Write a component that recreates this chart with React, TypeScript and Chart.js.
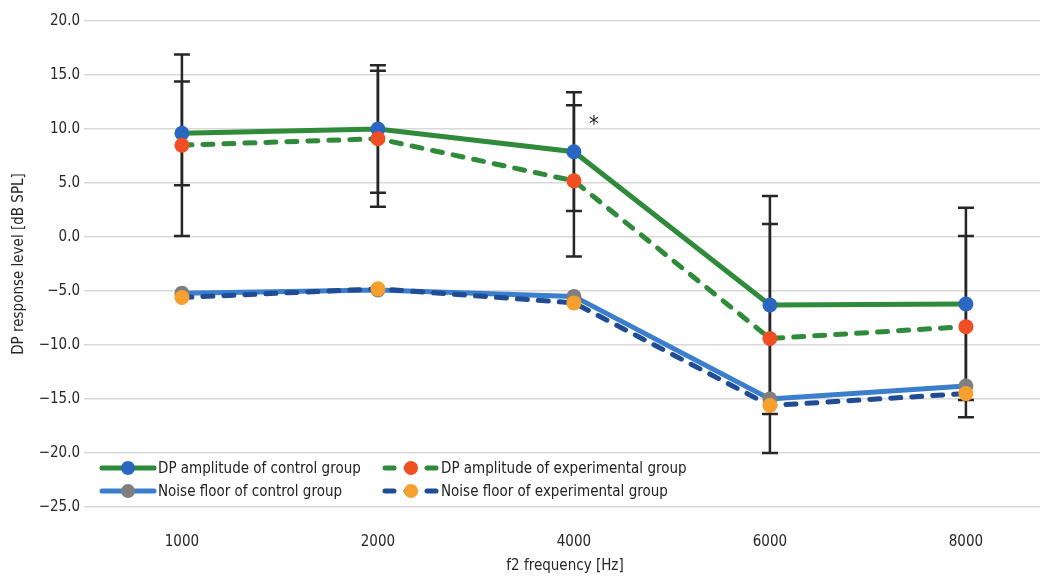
import React, { useEffect, useRef } from "react";
import { Chart, registerables } from "chart.js";

Chart.register(...registerables);

const categories = ["1000", "2000", "4000", "6000", "8000"];
const dpControl = [9.6, 10.0, 7.9, -6.3, -6.2];
const dpExperimental = [8.5, 9.1, 5.2, -9.4, -8.3];
const noiseControl = [-5.2, -4.9, -5.5, -15.0, -13.8];
const noiseExperimental = [-5.6, -4.8, -6.1, -15.6, -14.5];
const dpControlErr = [4.8, 5.9, 5.5, 10.1, 8.9];
const dpExperimentalErr = [8.4, 6.3, 7.0, 10.6, 8.4];
const yTicks = [20, 15, 10, 5, 0, -5, -10, -15, -20, -25];
const significant = [false, false, true, false, false];

const FONT = "'Liberation Sans Narrow', 'DejaVu Sans Condensed', 'Arial Narrow', sans-serif";

const GREEN = "#2f8a3a";
const LIGHT_BLUE = "#3b7fcc";
const DARK_BLUE = "#1f4c94";
const C_BLUE_PT = "#2a67c0";
const C_RED_PT = "#f04e23";
const C_GRAY_PT = "#7f7f7f";
const C_ORANGE_PT = "#f7a02e";

const legendItems = [
  { label: "DP amplitude of control group", line: GREEN, point: C_BLUE_PT, dash: false, col: 0, row: 0 },
  { label: "DP amplitude of experimental group", line: GREEN, point: C_RED_PT, dash: true, col: 1, row: 0 },
  { label: "Noise floor of control group", line: LIGHT_BLUE, point: C_GRAY_PT, dash: false, col: 0, row: 1 },
  { label: "Noise floor of experimental group", line: DARK_BLUE, point: C_ORANGE_PT, dash: true, col: 1, row: 1 },
];

const fmt = (v: number) => (v < 0 ? "\u2212" + Math.abs(v).toFixed(1) : v.toFixed(1));

const extrasPlugin = {
  id: "extras",
  beforeDatasetsDraw(chart: any) {
    const { ctx, scales } = chart;
    const xs = scales.x;
    const ys = scales.y;
    ctx.save();
    ctx.strokeStyle = "#262626";
    ctx.lineWidth = 2.5;
    const drawBar = (means: number[], errs: number[]) => {
      means.forEach((m, i) => {
        const x = xs.getPixelForValue(i);
        const yt = ys.getPixelForValue(m + errs[i]);
        const yb = ys.getPixelForValue(m - errs[i]);
        ctx.beginPath();
        ctx.moveTo(x, yt);
        ctx.lineTo(x, yb);
        ctx.moveTo(x - 8, yt);
        ctx.lineTo(x + 8, yt);
        ctx.moveTo(x - 8, yb);
        ctx.lineTo(x + 8, yb);
        ctx.stroke();
      });
    };
    drawBar(dpExperimental, dpExperimentalErr);
    drawBar(dpControl, dpControlErr);
    ctx.restore();
  },
  afterDatasetsDraw(chart: any) {
    const { ctx, scales } = chart;
    const xs = scales.x;
    const ys = scales.y;
    ctx.save();
    ctx.fillStyle = "#222";
    ctx.font = "22px " + FONT;
    ctx.textAlign = "center";
    ctx.textBaseline = "middle";
    significant.forEach((s, i) => {
      if (!s) return;
      ctx.fillText("*", xs.getPixelForValue(i) + 20, ys.getPixelForValue(10.3));
    });
    const colX = [100, 383];
    const rowY = [468, 491];
    ctx.fillStyle = "#ffffff";
    ctx.fillRect(94, 457, 620, 47);
    ctx.font = "15px " + FONT;
    ctx.textAlign = "left";
    legendItems.forEach((it) => {
      const x0 = colX[it.col];
      const y = rowY[it.row];
      ctx.strokeStyle = it.line;
      ctx.lineWidth = 5;
      ctx.lineCap = "round";
      ctx.setLineDash(it.dash ? [9, 12] : []);
      ctx.beginPath();
      ctx.moveTo(x0 + 2, y);
      ctx.lineTo(x0 + 54, y);
      ctx.stroke();
      ctx.setLineDash([]);
      ctx.fillStyle = it.point;
      ctx.beginPath();
      ctx.arc(x0 + 28, y, 7, 0, Math.PI * 2);
      ctx.fill();
      ctx.fillStyle = "#222";
      ctx.fillText(it.label, x0 + 58, y + 1);
    });
    ctx.restore();
  },
};

export default function App() {
  const ref = useRef<HTMLCanvasElement | null>(null);
  useEffect(() => {
    if (!ref.current) return;
    const common = {
      borderWidth: 5,
      pointRadius: 7.5,
      pointHoverRadius: 7.5,
      pointBorderWidth: 0,
      borderCapStyle: "round" as const,
      tension: 0,
    };
    const chart = new Chart(ref.current, {
      type: "line",
      data: {
        datasets: [
          {
            label: "DP amplitude of control group",
            data: dpControl.map((v, i) => ({ x: i, y: v })),
            borderColor: GREEN,
            pointBackgroundColor: C_BLUE_PT,
            order: 3,
            ...common,
          },
          {
            label: "DP amplitude of experimental group",
            data: dpExperimental.map((v, i) => ({ x: i, y: v })),
            borderColor: GREEN,
            borderDash: [10, 11],
            pointBackgroundColor: C_RED_PT,
            order: 2,
            ...common,
          },
          {
            label: "Noise floor of control group",
            data: noiseControl.map((v, i) => ({ x: i, y: v })),
            borderColor: LIGHT_BLUE,
            pointBackgroundColor: C_GRAY_PT,
            order: 1,
            ...common,
          },
          {
            label: "Noise floor of experimental group",
            data: noiseExperimental.map((v, i) => ({ x: i, y: v })),
            borderColor: DARK_BLUE,
            borderDash: [10, 11],
            pointBackgroundColor: C_ORANGE_PT,
            order: 0,
            ...common,
          },
        ],
      },
      options: {
        animation: false,
        responsive: true,
        maintainAspectRatio: false,
        layout: { padding: { top: 21, right: 14, left: 0, bottom: 0 } },
        plugins: {
          legend: { display: false },
          tooltip: { enabled: false },
        },
        scales: {
          x: {
            type: "linear",
            min: -0.469,
            max: 4.378,
            grid: { display: false },
            border: { display: false },
            ticks: {
              stepSize: 1,
              includeBounds: false,
              autoSkip: false,
              maxRotation: 0,
              padding: 18,
              color: "#262626",
              font: { family: FONT, size: 15 },
              callback: (v: any) => (Number.isInteger(v) && categories[v] !== undefined ? categories[v] : ""),
            },
            title: {
              display: true,
              text: "f2 frequency [Hz]",
              color: "#262626",
              font: { family: FONT, size: 15 },
              padding: { top: 0, bottom: 4 },
            },
            afterFit: (s: any) => {
              s.height = 72;
            },
          },
          y: {
            min: -25,
            max: 20,
            grid: { color: "#d9d9d9", lineWidth: 1.5, tickLength: 6, tickColor: "#d9d9d9" },
            border: { display: false },
            afterBuildTicks: (s: any) => {
              s.ticks = yTicks.map((v) => ({ value: v }));
            },
            ticks: {
              padding: 4,
              color: "#262626",
              font: { family: FONT, size: 15 },
              callback: (v: any) => fmt(Number(v)),
            },
            title: {
              display: true,
              text: "DP response level [dB SPL]",
              color: "#262626",
              font: { family: FONT, size: 15 },
              padding: { top: 10, bottom: 0 },
            },
            afterFit: (s: any) => {
              s.width = 90;
            },
          },
        },
      },
      plugins: [extrasPlugin],
    });
    return () => chart.destroy();
  }, []);
  return (
    <div style={{ position: "fixed", left: 0, top: 0, width: 1054, height: 579, background: "#fff" }}>
      <canvas ref={ref} />
    </div>
  );
}
